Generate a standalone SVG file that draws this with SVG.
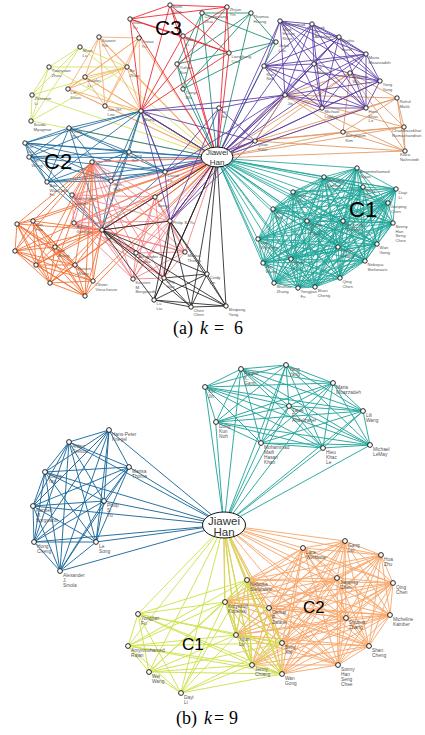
<svg xmlns="http://www.w3.org/2000/svg" width="425" height="735" viewBox="0 0 425 735">
<style>
.e{fill:none;stroke-width:0.85;stroke-linejoin:round;stroke-linecap:round}
.eb{fill:none;stroke-width:0.95;stroke-linejoin:round;stroke-linecap:round}
.c-teal{stroke:#20a59a}.c-pur{stroke:#5a3aa6}.c-tan{stroke:#df9660}.c-red{stroke:#e8202a}.c-grn{stroke:#168a6e}
.c-lor{stroke:#f7a86c}.c-yel{stroke:#d2e25a}.c-blu{stroke:#1d6a9c}.c-dor{stroke:#f36c2e}.c-pnk{stroke:#f47f85}.c-blk{stroke:#222}
.c-teal2{stroke:#26a69c}.c-blu2{stroke:#1d6a9c}.c-yel2{stroke:#cfe24c}.c-or2{stroke:#f8a86c}
.nd circle{fill:#fff;stroke:#111;stroke-width:0.9}
.la{font-family:"Liberation Sans",Arial,sans-serif;font-size:4.3px;fill:#555}
.lb{font-family:"Liberation Sans",Arial,sans-serif;font-size:4.8px;fill:#555}
.cl{font-family:"Liberation Sans",Arial,sans-serif;fill:#000}
.hub ellipse{fill:#fff;stroke:#111;stroke-width:1}
.hub text{font-family:"Liberation Sans",Arial,sans-serif;fill:#333;text-anchor:middle}
.cap{font-family:"Liberation Serif","Times New Roman",serif;font-size:18px;fill:#000}
</style>
<rect width="425" height="735" fill="#fff"/>
<g id="connectors">
<g class="e c-yel">
<polyline points="80,47 127,67 49,67 217,158 32,95 31,121"/>
<polyline points="127,67 217,158 80,47 31,121 49,67 32,95"/>
<polyline points="217,158 31,121 127,67 32,95 80,47 49,67"/>
</g>
<g class="e c-lor">
<polyline points="99,37 139,38 217,158 127,67 85,77 141,111 68,89 105,106"/>
<polyline points="139,38 127,67 99,37 141,111 217,158 105,106 85,77 68,89"/>
<polyline points="127,67 141,111 139,38 105,106 99,37 68,89 217,158 85,77"/>
<polyline points="141,111 105,106 127,67 68,89 139,38 85,77 99,37 217,158"/>
</g>
<g class="e c-grn">
<polyline points="202,13 251,13 217,158 276,42 177,64 183,89"/>
<polyline points="251,13 276,42 202,13 183,89 217,158 177,64"/>
<polyline points="276,42 183,89 251,13 177,64 202,13 217,158"/>
</g>
<g class="e c-red">
<polygon points="217,158 170,5 227,7 183,36 229,53 130,19 141,111"/>
<polygon points="217,158 227,7 229,53 170,5 141,111 183,36 130,19"/>
<polygon points="217,158 229,53 141,111 227,7 130,19 170,5 183,36"/>
</g>
<g class="e c-blu">
<polyline points="69,128 141,111 25,143 129,152 29,157 165,172 47,182 217,158 111,181 102,230"/>
<polyline points="141,111 129,152 69,128 165,172 25,143 217,158 29,157 102,230 47,182 111,181"/>
<polyline points="129,152 165,172 141,111 217,158 69,128 102,230 25,143 111,181 29,157 47,182"/>
<polyline points="165,172 217,158 129,152 102,230 141,111 111,181 69,128 47,182 25,143 29,157"/>
<polyline points="217,158 102,230 165,172 111,181 129,152 47,182 141,111 29,157 69,128 25,143"/>
</g>
<g class="e c-dor">
<polyline points="92,162 102,230 217,158 93,281 75,265 85,296 55,247 50,283 33,221 36,265 17,224 15,251"/>
<polyline points="102,230 93,281 92,162 85,296 217,158 50,283 75,265 36,265 55,247 15,251 33,221 17,224"/>
<polyline points="93,281 85,296 102,230 50,283 92,162 36,265 217,158 15,251 75,265 17,224 55,247 33,221"/>
<polyline points="85,296 50,283 93,281 36,265 102,230 15,251 92,162 17,224 217,158 33,221 75,265 55,247"/>
<polyline points="50,283 36,265 85,296 15,251 93,281 17,224 102,230 33,221 92,162 55,247 217,158 75,265"/>
<polyline points="36,265 15,251 50,283 17,224 85,296 33,221 93,281 55,247 102,230 75,265 92,162 217,158"/>
</g>
<g class="e c-pnk">
<polygon points="217,158 92,162 155,197 72,195 170,221 74,223 185,252 102,230 164,278 136,253 133,279"/>
<polygon points="217,158 155,197 170,221 92,162 185,252 72,195 164,278 74,223 133,279 102,230 136,253"/>
<polygon points="217,158 170,221 185,252 155,197 164,278 92,162 133,279 72,195 136,253 74,223 102,230"/>
<polygon points="217,158 185,252 164,278 170,221 133,279 155,197 136,253 92,162 102,230 72,195 74,223"/>
<polygon points="217,158 164,278 133,279 185,252 136,253 170,221 102,230 155,197 74,223 92,162 72,195"/>
</g>
<g class="e c-blk">
<polyline points="170,221 217,158 207,274 226,306 102,230 191,307 164,278 154,300"/>
<polyline points="217,158 226,306 170,221 191,307 207,274 154,300 102,230 164,278"/>
<polyline points="226,306 191,307 217,158 154,300 170,221 164,278 207,274 102,230"/>
<polyline points="191,307 154,300 226,306 164,278 217,158 102,230 170,221 207,274"/>
</g>
<g class="e c-pur">
<polygon points="217,158 219,108 255,141 285,95 141,111 170,221 165,172"/>
<polygon points="217,158 255,141 141,111 219,108 165,172 285,95 170,221"/>
<polygon points="217,158 141,111 165,172 255,141 170,221 219,108 285,95"/>
</g>
<g class="e c-tan">
<polyline points="350,73 397,98 217,158 404,127 255,141 405,151 285,95 343,132"/>
<polyline points="397,98 404,127 350,73 405,151 217,158 343,132 255,141 285,95"/>
<polyline points="404,127 405,151 397,98 343,132 350,73 285,95 217,158 255,141"/>
<polyline points="405,151 343,132 404,127 285,95 397,98 255,141 350,73 217,158"/>
</g>
<g class="e c-pur">
<polygon points="217,158 280,21 312,24 314,64 339,37 264,66 366,54 285,95 380,81 322,108 366,108"/>
<polygon points="217,158 312,24 339,37 280,21 366,54 314,64 380,81 264,66 366,108 285,95 322,108"/>
<polygon points="217,158 339,37 366,54 312,24 380,81 280,21 366,108 314,64 322,108 264,66 285,95"/>
<polygon points="217,158 366,54 380,81 339,37 366,108 312,24 322,108 280,21 285,95 314,64 264,66"/>
<polygon points="217,158 380,81 366,108 366,54 322,108 339,37 285,95 312,24 264,66 280,21 314,64"/>
</g>
<g class="e c-teal">
<polygon points="217,158 357,168 324,177 315,287 363,187 298,288 396,189 274,283 293,192 340,278 388,203 365,261 273,209 291,259 307,221 263,263 343,221 338,247 393,223 377,244 258,239"/>
<polygon points="217,158 324,177 363,187 357,168 396,189 315,287 293,192 298,288 388,203 274,283 273,209 340,278 307,221 365,261 343,221 291,259 393,223 263,263 258,239 338,247 377,244"/>
<polygon points="217,158 363,187 396,189 324,177 293,192 357,168 388,203 315,287 273,209 298,288 307,221 274,283 343,221 340,278 393,223 365,261 258,239 291,259 377,244 263,263 338,247"/>
<polygon points="217,158 396,189 293,192 363,187 388,203 324,177 273,209 357,168 307,221 315,287 343,221 298,288 393,223 274,283 258,239 340,278 377,244 365,261 338,247 291,259 263,263"/>
<polygon points="217,158 293,192 388,203 396,189 273,209 363,187 307,221 324,177 343,221 357,168 393,223 315,287 258,239 298,288 377,244 274,283 338,247 340,278 263,263 365,261 291,259"/>
<polygon points="217,158 388,203 273,209 293,192 307,221 396,189 343,221 363,187 393,223 324,177 258,239 357,168 377,244 315,287 338,247 298,288 263,263 274,283 291,259 340,278 365,261"/>
<polygon points="217,158 273,209 307,221 388,203 343,221 293,192 393,223 396,189 258,239 363,187 377,244 324,177 338,247 357,168 263,263 315,287 291,259 298,288 365,261 274,283 340,278"/>
<polygon points="217,158 307,221 343,221 273,209 393,223 388,203 258,239 293,192 377,244 396,189 338,247 363,187 263,263 324,177 291,259 357,168 365,261 315,287 340,278 298,288 274,283"/>
<polygon points="217,158 343,221 393,223 307,221 258,239 273,209 377,244 388,203 338,247 293,192 263,263 396,189 291,259 363,187 365,261 324,177 340,278 357,168 274,283 315,287 298,288"/>
<polygon points="217,158 393,223 258,239 343,221 377,244 307,221 338,247 273,209 263,263 388,203 291,259 293,192 365,261 396,189 340,278 363,187 274,283 324,177 298,288 357,168 315,287"/>
</g>
<g class="eb c-teal2">
<polygon points="224,525 205,387 241,369 289,406 286,365 216,422 333,383 261,443 363,411 323,448 370,445"/>
<polygon points="224,525 241,369 286,365 205,387 333,383 289,406 363,411 216,422 370,445 261,443 323,448"/>
<polygon points="224,525 286,365 333,383 241,369 363,411 205,387 370,445 289,406 323,448 216,422 261,443"/>
<polygon points="224,525 333,383 363,411 286,365 370,445 241,369 323,448 205,387 261,443 289,406 216,422"/>
<polygon points="224,525 363,411 370,445 333,383 323,448 286,365 261,443 241,369 216,422 205,387 289,406"/>
</g>
<g class="eb c-blu2">
<polyline points="109,430 129,467 69,442 104,501 45,472 224,525 33,506 96,542 34,542 60,571"/>
<polyline points="129,467 104,501 109,430 224,525 69,442 96,542 45,472 60,571 33,506 34,542"/>
<polyline points="104,501 224,525 129,467 96,542 109,430 60,571 69,442 34,542 45,472 33,506"/>
<polyline points="224,525 96,542 104,501 60,571 129,467 34,542 109,430 33,506 69,442 45,472"/>
<polyline points="96,542 60,571 224,525 34,542 104,501 33,506 129,467 45,472 109,430 69,442"/>
</g>
<g class="eb c-or2">
<polygon points="224,525 303,548 345,541 337,578 381,555 346,618 393,583 269,608 390,615 282,643 369,646 247,580 338,665 225,602 282,674 236,635 252,665"/>
<polygon points="224,525 345,541 381,555 303,548 393,583 337,578 390,615 346,618 369,646 269,608 338,665 282,643 282,674 247,580 252,665 225,602 236,635"/>
<polygon points="224,525 381,555 393,583 345,541 390,615 303,548 369,646 337,578 338,665 346,618 282,674 269,608 252,665 282,643 236,635 247,580 225,602"/>
<polygon points="224,525 393,583 390,615 381,555 369,646 345,541 338,665 303,548 282,674 337,578 252,665 346,618 236,635 269,608 225,602 282,643 247,580"/>
<polygon points="224,525 390,615 369,646 393,583 338,665 381,555 282,674 345,541 252,665 303,548 236,635 337,578 225,602 346,618 247,580 269,608 282,643"/>
<polygon points="224,525 369,646 338,665 390,615 282,674 393,583 252,665 381,555 236,635 345,541 225,602 303,548 247,580 337,578 282,643 346,618 269,608"/>
<polygon points="224,525 338,665 282,674 369,646 252,665 390,615 236,635 393,583 225,602 381,555 247,580 345,541 282,643 303,548 269,608 337,578 346,618"/>
<polygon points="224,525 282,674 252,665 338,665 236,635 369,646 225,602 390,615 247,580 393,583 282,643 381,555 269,608 345,541 346,618 303,548 337,578"/>
</g>
<g class="eb c-yel2">
<polygon points="224,525 247,580 225,602 236,635 138,614 282,643 128,646 282,674 149,672 252,665 181,693"/>
<polygon points="224,525 225,602 138,614 247,580 128,646 236,635 149,672 282,643 181,693 282,674 252,665"/>
<polygon points="224,525 138,614 128,646 225,602 149,672 247,580 181,693 236,635 252,665 282,643 282,674"/>
<polygon points="224,525 128,646 149,672 138,614 181,693 225,602 252,665 247,580 282,674 236,635 282,643"/>
<polygon points="224,525 149,672 181,693 128,646 252,665 138,614 282,674 225,602 282,643 247,580 236,635"/>
</g>
</g>

<g id="hub-a" class="hub"><ellipse cx="217" cy="157" rx="16" ry="10"/><text x="217" y="155" font-size="8">Jiawei</text><text x="217" y="164.5" font-size="8">Han</text></g>
<g id="hub-b" class="hub"><ellipse cx="224" cy="525" rx="21.5" ry="13"/><text x="224" y="525" font-size="11.5">Jiawei</text><text x="224" y="536" font-size="11.5">Han</text></g>

<g id="a-t0" class="nd"><circle cx="357" cy="168" r="2.2"/><text class="la" x="359.5" y="173">Amynmohamed<tspan x="359.5" dy="4.6">Rajan</tspan></text></g>
<g id="a-t1" class="nd"><circle cx="324" cy="177" r="2.2"/><text class="la" x="326.5" y="182">Micheline<tspan x="326.5" dy="4.6">Kamber</tspan></text></g>
<g id="a-t2" class="nd"><circle cx="363" cy="187" r="2.2"/><text class="la" x="365.5" y="192">Betty<tspan x="365.5" dy="4.6">Xia</tspan></text></g>
<g id="a-t3" class="nd"><circle cx="396" cy="189" r="2.2"/><text class="la" x="398.5" y="194">Dayi<tspan x="398.5" dy="4.6">Li</tspan></text></g>
<g id="a-t4" class="nd"><circle cx="293" cy="192" r="2.2"/><text class="la" x="295.5" y="197">Gang<tspan x="295.5" dy="4.6">Liu</tspan></text></g>
<g id="a-t5" class="nd"><circle cx="388" cy="203" r="2.2"/><text class="la" x="390.5" y="208">Jianping<tspan x="390.5" dy="4.6">Chen</tspan></text></g>
<g id="a-t6" class="nd"><circle cx="273" cy="209" r="2.2"/><text class="la" x="275.5" y="214">Hua<tspan x="275.5" dy="4.6">Zhu</tspan></text></g>
<g id="a-t7" class="nd"><circle cx="307" cy="221" r="2.2"/><text class="la" x="309.5" y="226">Osmar<tspan x="309.5" dy="4.6">R.</tspan><tspan x="309.5" dy="4.6">Zaiane</tspan></text></g>
<g id="a-t8" class="nd"><circle cx="343" cy="221" r="2.2"/><text class="la" x="345.5" y="226">Krzysztof<tspan x="345.5" dy="4.6">Koperski</tspan></text></g>
<g id="a-t9" class="nd"><circle cx="393" cy="223" r="2.2"/><text class="la" x="395.5" y="228">Sonny<tspan x="395.5" dy="4.6">Han</tspan><tspan x="395.5" dy="4.6">Seng</tspan><tspan x="395.5" dy="4.6">Chee</tspan></text></g>
<g id="a-t10" class="nd"><circle cx="258" cy="239" r="2.2"/><text class="la" x="260.5" y="244">Lara<tspan x="260.5" dy="4.6">Winstone</tspan></text></g>
<g id="a-t11" class="nd"><circle cx="377" cy="244" r="2.2"/><text class="la" x="379.5" y="249">Wan<tspan x="379.5" dy="4.6">Gong</tspan></text></g>
<g id="a-t12" class="nd"><circle cx="338" cy="247" r="2.2"/><text class="la" x="340.5" y="252">Jenny<tspan x="340.5" dy="4.6">Chiang</tspan></text></g>
<g id="a-t13" class="nd"><circle cx="263" cy="263" r="2.2"/><text class="la" x="265.5" y="268">Wei<tspan x="265.5" dy="4.6">Wang</tspan></text></g>
<g id="a-t14" class="nd"><circle cx="291" cy="259" r="2.2"/><text class="la" x="293.5" y="264">Yijun<tspan x="293.5" dy="4.6">Lu</tspan></text></g>
<g id="a-t15" class="nd"><circle cx="365" cy="261" r="2.2"/><text class="la" x="367.5" y="266">Nebojsa<tspan x="367.5" dy="4.6">Stefanovic</tspan></text></g>
<g id="a-t16" class="nd"><circle cx="340" cy="278" r="2.2"/><text class="la" x="342.5" y="283">Qing<tspan x="342.5" dy="4.6">Chen</tspan></text></g>
<g id="a-t17" class="nd"><circle cx="274" cy="283" r="2.2"/><text class="la" x="276.5" y="288">Shuhua<tspan x="276.5" dy="4.6">Zhang</tspan></text></g>
<g id="a-t18" class="nd"><circle cx="298" cy="288" r="2.2"/><text class="la" x="300.5" y="293">Yongjian<tspan x="300.5" dy="4.6">Fu</tspan></text></g>
<g id="a-t19" class="nd"><circle cx="315" cy="287" r="2.2"/><text class="la" x="317.5" y="292">Shan<tspan x="317.5" dy="4.6">Cheng</tspan></text></g>

<g id="a-p0" class="nd"><circle cx="280" cy="21" r="2.2"/><text class="la" x="282.5" y="26">Mohammad<tspan x="282.5" dy="4.6">Maifi</tspan><tspan x="282.5" dy="4.6">Hasan</tspan><tspan x="282.5" dy="4.6">Khan</tspan></text></g>
<g id="a-p1" class="nd"><circle cx="312" cy="24" r="2.2"/><text class="la" x="314.5" y="29">Tarek<tspan x="314.5" dy="4.6">F.</tspan><tspan x="314.5" dy="4.6">Abdelzaher</tspan></text></g>
<g id="a-p2" class="nd"><circle cx="339" cy="37" r="2.2"/><text class="la" x="341.5" y="42">Raghu<tspan x="341.5" dy="4.6">K.</tspan><tspan x="341.5" dy="4.6">Ganti</tspan></text></g>
<g id="a-p3" class="nd"><circle cx="366" cy="54" r="2.2"/><text class="la" x="368.5" y="59">Maria<tspan x="368.5" dy="4.6">Moazzadeh</tspan></text></g>
<g id="a-p4" class="nd"><circle cx="380" cy="81" r="2.2"/><text class="la" x="382.5" y="86">Yong<tspan x="382.5" dy="4.6">Yang</tspan></text></g>
<g id="a-p5" class="nd"><circle cx="366" cy="108" r="2.2"/><text class="la" x="368.5" y="113">Hieu<tspan x="368.5" dy="4.6">Khac</tspan><tspan x="368.5" dy="4.6">Le</tspan></text></g>
<g id="a-p6" class="nd"><circle cx="322" cy="108" r="2.2"/><text class="la" x="324.5" y="113">Michael<tspan x="324.5" dy="4.6">LeMay</tspan></text></g>
<g id="a-p7" class="nd"><circle cx="285" cy="95" r="2.2"/><text class="la" x="287.5" y="100">Xin<tspan x="287.5" dy="4.6">Jin</tspan></text></g>
<g id="a-p8" class="nd"><circle cx="264" cy="66" r="2.2"/><text class="la" x="266.5" y="71">Dong<tspan x="266.5" dy="4.6">Kun</tspan><tspan x="266.5" dy="4.6">Noh</tspan></text></g>
<g id="a-p9" class="nd"><circle cx="314" cy="64" r="2.2"/><text class="la" x="316.5" y="69">Lili<tspan x="316.5" dy="4.6">Wang</tspan></text></g>
<g id="a-q0" class="nd"><circle cx="219" cy="108" r="2.2"/><text class="la" x="221.5" y="113">Lu<tspan x="221.5" dy="4.6">Su</tspan></text></g>
<g id="a-q1" class="nd"><circle cx="255" cy="141" r="2.2"/><text class="la" x="257.5" y="146">Quan<tspan x="257.5" dy="4.6">Yuan</tspan></text></g>

<g id="a-o0" class="nd"><circle cx="350" cy="73" r="2.2"/><text class="la" x="352.5" y="78">Wanmin<tspan x="352.5" dy="4.6">Wu</tspan></text></g>
<g id="a-o1" class="nd"><circle cx="397" cy="98" r="2.2"/><text class="la" x="399.5" y="103">Rahul<tspan x="399.5" dy="4.6">Malik</tspan></text></g>
<g id="a-o2" class="nd"><circle cx="404" cy="127" r="2.2"/><text class="la" x="392" y="132">Chandrasekhar<tspan x="392" dy="4.6">Ramachandran</tspan></text></g>
<g id="a-o3" class="nd"><circle cx="405" cy="151" r="2.2"/><text class="la" x="400" y="156">Klara<tspan x="400" dy="4.6">Nahrstedt</tspan></text></g>
<g id="a-o4" class="nd"><circle cx="343" cy="132" r="2.2"/><text class="la" x="345.5" y="137">Sangkyum<tspan x="345.5" dy="4.6">Kim</tspan></text></g>

<g id="a-r0" class="nd"><circle cx="170" cy="5" r="2.2"/><text class="la" x="172.5" y="8">Bolin<tspan x="172.5" dy="4.6">Ding</tspan></text></g>
<g id="a-r1" class="nd"><circle cx="227" cy="7" r="2.2"/><text class="la" x="229.5" y="11">Zhijun<tspan x="229.5" dy="4.6">Yin</tspan></text></g>
<g id="a-r2" class="nd"><circle cx="229" cy="53" r="2.2"/><text class="la" x="231.5" y="58">Liangliang<tspan x="231.5" dy="4.6">Cao</tspan></text></g>
<g id="a-r3" class="nd"><circle cx="141" cy="111" r="2.2"/><text class="la" x="143.5" y="116">Chi<tspan x="143.5" dy="4.6">Wang</tspan></text></g>
<g id="a-r4" class="nd"><circle cx="130" cy="19" r="2.2"/><text class="la" x="132.5" y="24">Xiao<tspan x="132.5" dy="4.6">Yu</tspan></text></g>
<g id="a-r5" class="nd"><circle cx="183" cy="36" r="2.2"/><text class="la" x="185.5" y="41">Rui<tspan x="185.5" dy="4.6">Li</tspan></text></g>
<g id="a-g0" class="nd"><circle cx="202" cy="13" r="2.2"/><text class="la" x="204.5" y="18">Chengxiang<tspan x="204.5" dy="4.6">Zhai</tspan></text></g>
<g id="a-g1" class="nd"><circle cx="251" cy="13" r="2.2"/><text class="la" x="253.5" y="18">Thomas<tspan x="253.5" dy="4.6">Huang</tspan></text></g>
<g id="a-g2" class="nd"><circle cx="276" cy="42" r="2.2"/><text class="la" x="278.5" y="47">Jiebo<tspan x="278.5" dy="4.6">Luo</tspan></text></g>
<g id="a-g3" class="nd"><circle cx="177" cy="64" r="2.2"/><text class="la" x="179.5" y="69">Yizhou<tspan x="179.5" dy="4.6">Sun</tspan></text></g>
<g id="a-g4" class="nd"><circle cx="183" cy="89" r="2.2"/><text class="la" x="185.5" y="94">Tianyi<tspan x="185.5" dy="4.6">Wu</tspan></text></g>

<g id="a-l0" class="nd"><circle cx="99" cy="37" r="2.2"/><text class="la" x="101.5" y="42">Xiaoxin<tspan x="101.5" dy="4.6">Yin</tspan></text></g>
<g id="a-l1" class="nd"><circle cx="139" cy="38" r="2.2"/><text class="la" x="141.5" y="43">Yintao<tspan x="141.5" dy="4.6">Yu</tspan></text></g>
<g id="a-l2" class="nd"><circle cx="127" cy="67" r="2.2"/><text class="la" x="129.5" y="72">Bo<tspan x="129.5" dy="4.6">Zhao</tspan></text></g>
<g id="a-l3" class="nd"><circle cx="85" cy="77" r="2.2"/><text class="la" x="87.5" y="82">Xiaolei<tspan x="87.5" dy="4.6">Li</tspan></text></g>
<g id="a-l4" class="nd"><circle cx="68" cy="89" r="2.2"/><text class="la" x="70.5" y="94">Lei<tspan x="70.5" dy="4.6">Duan</tspan></text></g>
<g id="a-l5" class="nd"><circle cx="105" cy="106" r="2.2"/><text class="la" x="107.5" y="111">Jae-Gil<tspan x="107.5" dy="4.6">Lee</tspan></text></g>
<g id="a-y0" class="nd"><circle cx="80" cy="47" r="2.2"/><text class="la" x="82.5" y="52">Shan<tspan x="82.5" dy="4.6">Lu</tspan></text></g>
<g id="a-y1" class="nd"><circle cx="49" cy="67" r="2.2"/><text class="la" x="51.5" y="72">Yuanyuan<tspan x="51.5" dy="4.6">Zhou</tspan></text></g>
<g id="a-y2" class="nd"><circle cx="32" cy="95" r="2.2"/><text class="la" x="34.5" y="100">Zhenmin<tspan x="34.5" dy="4.6">Li</tspan></text></g>
<g id="a-y3" class="nd"><circle cx="31" cy="121" r="2.2"/><text class="la" x="33.5" y="126">Suvda<tspan x="33.5" dy="4.6">Myagmar</tspan></text></g>

<g id="a-b0" class="nd"><circle cx="69" cy="128" r="2.2"/><text class="la" x="71.5" y="133">Feida<tspan x="71.5" dy="4.6">Zhu</tspan></text></g>
<g id="a-b1" class="nd"><circle cx="25" cy="143" r="2.2"/><text class="la" x="27.5" y="148">Lei<tspan x="27.5" dy="4.6">Liu</tspan></text></g>
<g id="a-b2" class="nd"><circle cx="29" cy="157" r="2.2"/><text class="la" x="31.5" y="162">Jun<tspan x="31.5" dy="4.6">Wang</tspan></text></g>
<g id="a-b3" class="nd"><circle cx="47" cy="182" r="2.2"/><text class="la" x="49.5" y="187">Ada<tspan x="49.5" dy="4.6">Wai-Chee</tspan><tspan x="49.5" dy="4.6">Fu</tspan></text></g>
<g id="a-b4" class="nd"><circle cx="111" cy="181" r="2.2"/><text class="la" x="113.5" y="186">Jian<tspan x="113.5" dy="4.6">Pei</tspan></text></g>
<g id="a-b5" class="nd"><circle cx="129" cy="152" r="2.2"/><text class="la" x="131.5" y="157">Dong<tspan x="131.5" dy="4.6">Xin</tspan></text></g>
<g id="a-b6" class="nd"><circle cx="165" cy="172" r="2.2"/><text class="la" x="167.5" y="177">David<tspan x="167.5" dy="4.6">Lo</tspan></text></g>

<g id="a-d0" class="nd"><circle cx="92" cy="162" r="2.2"/></g>
<g id="a-d1" class="nd"><circle cx="102" cy="230" r="2.2"/><text class="la" x="104.5" y="235">Xifeng<tspan x="104.5" dy="4.6">Yan</tspan></text></g>
<g id="a-d2" class="nd"><circle cx="93" cy="281" r="2.2"/><text class="la" x="95.5" y="286">Olivier<tspan x="95.5" dy="4.6">Verscheure</tspan></text></g>
<g id="a-d3" class="nd"><circle cx="85" cy="296" r="2.2"/></g>
<g id="a-d4" class="nd"><circle cx="50" cy="283" r="2.2"/></g>
<g id="a-d5" class="nd"><circle cx="36" cy="265" r="2.2"/></g>
<g id="a-d6" class="nd"><circle cx="15" cy="251" r="2.2"/></g>
<g id="a-d7" class="nd"><circle cx="17" cy="224" r="2.2"/></g>
<g id="a-d8" class="nd"><circle cx="33" cy="221" r="2.2"/><text class="la" x="35.5" y="226">Wei<tspan x="35.5" dy="4.6">Fan</tspan></text></g>
<g id="a-d9" class="nd"><circle cx="55" cy="247" r="2.2"/><text class="la" x="57.5" y="252">Kun<tspan x="57.5" dy="4.6">Zhang</tspan></text></g>
<g id="a-d10" class="nd"><circle cx="75" cy="265" r="2.2"/><text class="la" x="77.5" y="270">Haixun<tspan x="77.5" dy="4.6">Wang</tspan></text></g>

<g id="a-k0" class="nd"><circle cx="72" cy="195" r="2.2"/><text class="la" x="74.5" y="200">Hans-Peter<tspan x="74.5" dy="4.6">Kriegel</tspan></text></g>
<g id="a-k1" class="nd"><circle cx="155" cy="197" r="2.2"/><text class="la" x="157.5" y="202">Le<tspan x="157.5" dy="4.6">Song</tspan></text></g>
<g id="a-k2" class="nd"><circle cx="170" cy="221" r="2.2"/><text class="la" x="172.5" y="224">Philip S. Yu</text></g>
<g id="a-k3" class="nd"><circle cx="185" cy="252" r="2.2"/><text class="la" x="187.5" y="257">Marisa<tspan x="187.5" dy="4.6">Thoma</tspan></text></g>
<g id="a-k4" class="nd"><circle cx="164" cy="278" r="2.2"/><text class="la" x="166.5" y="283">Jing<tspan x="166.5" dy="4.6">Gao</tspan></text></g>
<g id="a-k5" class="nd"><circle cx="133" cy="279" r="2.2"/><text class="la" x="135.5" y="284">Karsten<tspan x="135.5" dy="4.6">M.</tspan><tspan x="135.5" dy="4.6">Borgwardt</tspan></text></g>
<g id="a-k6" class="nd"><circle cx="136" cy="253" r="2.2"/><text class="la" x="138.5" y="258">Alexander J.<tspan x="138.5" dy="4.6">Smola</tspan></text></g>
<g id="a-k7" class="nd"><circle cx="74" cy="223" r="2.2"/><text class="la" x="76.5" y="228">Arthur<tspan x="76.5" dy="4.6">Gretton</tspan></text></g>
<g id="a-k8" class="nd"><circle cx="207" cy="274" r="2.2"/><text class="la" x="209.5" y="279">Cindy<tspan x="209.5" dy="4.6">Lin</tspan></text></g>
<g id="a-k9" class="nd"><circle cx="154" cy="300" r="2.2"/><text class="la" x="156.5" y="305">Lu<tspan x="156.5" dy="4.6">Liu</tspan></text></g>
<g id="a-k10" class="nd"><circle cx="191" cy="307" r="2.2"/><text class="la" x="193.5" y="311.5">Chen<tspan x="193.5" dy="4.4">Chen</tspan></text></g>
<g id="a-k11" class="nd"><circle cx="226" cy="306" r="2.2"/><text class="la" x="228.5" y="311">Shiqiang<tspan x="228.5" dy="4.6">Yang</tspan></text></g>

<text class="cl" x="155" y="35" font-size="21">C3</text>
<text class="cl" x="44" y="169" font-size="22">C2</text>
<text class="cl" x="349" y="217" font-size="22">C1</text>

<g id="b-t0" class="nd"><circle cx="205" cy="387" r="2.4"/><text class="lb" x="208" y="392.5">Xin<tspan x="208" dy="5.2">Jin</tspan></text></g>
<g id="b-t1" class="nd"><circle cx="241" cy="369" r="2.4"/><text class="lb" x="244" y="374.5">Raghu<tspan x="244" dy="5.2">K.</tspan><tspan x="244" dy="5.2">Ganti</tspan></text></g>
<g id="b-t2" class="nd"><circle cx="286" cy="365" r="2.4"/><text class="lb" x="289" y="370.5">Yong<tspan x="289" dy="5.2">Yang</tspan></text></g>
<g id="b-t3" class="nd"><circle cx="333" cy="383" r="2.4"/><text class="lb" x="336" y="388.5">Maria<tspan x="336" dy="5.2">Moazzadeh</tspan></text></g>
<g id="b-t4" class="nd"><circle cx="363" cy="411" r="2.4"/><text class="lb" x="366" y="416.5">Lili<tspan x="366" dy="5.2">Wang</tspan></text></g>
<g id="b-t5" class="nd"><circle cx="370" cy="445" r="2.4"/><text class="lb" x="373" y="450.5">Michael<tspan x="373" dy="5.2">LeMay</tspan></text></g>
<g id="b-t6" class="nd"><circle cx="323" cy="448" r="2.4"/><text class="lb" x="326" y="453.5">Hieu<tspan x="326" dy="5.2">Khac</tspan><tspan x="326" dy="5.2">Le</tspan></text></g>
<g id="b-t7" class="nd"><circle cx="261" cy="443" r="2.4"/><text class="lb" x="264" y="448.5">Mohammad<tspan x="264" dy="5.2">Maifi</tspan><tspan x="264" dy="5.2">Hasan</tspan><tspan x="264" dy="5.2">Khan</tspan></text></g>
<g id="b-t8" class="nd"><circle cx="216" cy="422" r="2.4"/><text class="lb" x="219" y="427.5">Dong<tspan x="219" dy="5.2">Kun</tspan><tspan x="219" dy="5.2">Noh</tspan></text></g>
<g id="b-t9" class="nd"><circle cx="289" cy="406" r="2.4"/><text class="lb" x="292" y="411.5">Tarek<tspan x="292" dy="5.2">F.</tspan><tspan x="292" dy="5.2">Abdelzaher</tspan></text></g>

<g id="b-b0" class="nd"><circle cx="109" cy="430" r="2.4"/><text class="lb" x="112" y="435.5">Hans-Peter<tspan x="112" dy="5.2">Kriegel</tspan></text></g>
<g id="b-b1" class="nd"><circle cx="129" cy="467" r="2.4"/><text class="lb" x="132" y="472.5">Marisa<tspan x="132" dy="5.2">Thoma</tspan></text></g>
<g id="b-b2" class="nd"><circle cx="104" cy="501" r="2.4"/><text class="lb" x="107" y="506.5">Philip<tspan x="107" dy="5.2">S.</tspan><tspan x="107" dy="5.2">Yu</tspan></text></g>
<g id="b-b4" class="nd"><circle cx="96" cy="542" r="2.4"/><text class="lb" x="99" y="547.5">Le<tspan x="99" dy="5.2">Song</tspan></text></g>
<g id="b-b5" class="nd"><circle cx="60" cy="571" r="2.4"/><text class="lb" x="63" y="576.5">Alexander<tspan x="63" dy="5.2">J.</tspan><tspan x="63" dy="5.2">Smola</tspan></text></g>
<g id="b-b6" class="nd"><circle cx="34" cy="542" r="2.4"/><text class="lb" x="37" y="547.5">Hong<tspan x="37" dy="5.2">Cheng</tspan></text></g>
<g id="b-b7" class="nd"><circle cx="33" cy="506" r="2.4"/><text class="lb" x="36" y="511.5">Karsten<tspan x="36" dy="5.2">M.</tspan><tspan x="36" dy="5.2">Borgwardt</tspan></text></g>
<g id="b-b8" class="nd"><circle cx="45" cy="472" r="2.4"/><text class="lb" x="48" y="477.5">Xifeng<tspan x="48" dy="5.2">Yan</tspan></text></g>
<g id="b-b9" class="nd"><circle cx="69" cy="442" r="2.4"/><text class="lb" x="72" y="447.5">Arthur<tspan x="72" dy="5.2">Gretton</tspan></text></g>

<g id="b-y0" class="nd"><circle cx="247" cy="580" r="2.4"/><text class="lb" x="250" y="585.5">Nebojsa<tspan x="250" dy="5.2">Stefanovic</tspan></text></g>
<g id="b-y1" class="nd"><circle cx="225" cy="602" r="2.4"/><text class="lb" x="228" y="607.5">Krzysztof<tspan x="228" dy="5.2">Koperski</tspan></text></g>
<g id="b-y2" class="nd"><circle cx="138" cy="614" r="2.4"/><text class="lb" x="141" y="619.5">Yongjian<tspan x="141" dy="5.2">Fu</tspan></text></g>
<g id="b-y3" class="nd"><circle cx="128" cy="646" r="2.4"/><text class="lb" x="131" y="651.5">Amynmohamed<tspan x="131" dy="5.2">Rajan</tspan></text></g>
<g id="b-y4" class="nd"><circle cx="149" cy="672" r="2.4"/><text class="lb" x="152" y="677.5">Wei<tspan x="152" dy="5.2">Wang</tspan></text></g>
<g id="b-y5" class="nd"><circle cx="181" cy="693" r="2.4"/><text class="lb" x="184" y="698.5">Dayi<tspan x="184" dy="5.2">Li</tspan></text></g>
<g id="b-y6" class="nd"><circle cx="252" cy="665" r="2.4"/><text class="lb" x="255" y="670.5">Jenny<tspan x="255" dy="5.2">Chiang</tspan></text></g>
<g id="b-y7" class="nd"><circle cx="282" cy="674" r="2.4"/><text class="lb" x="285" y="679.5">Wan<tspan x="285" dy="5.2">Gong</tspan></text></g>
<g id="b-y8" class="nd"><circle cx="282" cy="643" r="2.4"/><text class="lb" x="285" y="648.5">Betty<tspan x="285" dy="5.2">Xia</tspan></text></g>
<g id="b-y9" class="nd"><circle cx="236" cy="635" r="2.4"/><text class="lb" x="239" y="640.5">Yijun<tspan x="239" dy="5.2">Lu</tspan></text></g>
<g id="b-o0" class="nd"><circle cx="303" cy="548" r="2.4"/><text class="lb" x="306" y="553.5">Lara<tspan x="306" dy="5.2">Winstone</tspan></text></g>
<g id="b-o1" class="nd"><circle cx="345" cy="541" r="2.4"/><text class="lb" x="348" y="546.5">Gang<tspan x="348" dy="5.2">Liu</tspan></text></g>
<g id="b-o2" class="nd"><circle cx="381" cy="555" r="2.4"/><text class="lb" x="384" y="560.5">Hua<tspan x="384" dy="5.2">Zhu</tspan></text></g>
<g id="b-o3" class="nd"><circle cx="393" cy="583" r="2.4"/><text class="lb" x="396" y="588.5">Qing<tspan x="396" dy="5.2">Chen</tspan></text></g>
<g id="b-o4" class="nd"><circle cx="390" cy="615" r="2.4"/><text class="lb" x="393" y="620.5">Micheline<tspan x="393" dy="5.2">Kamber</tspan></text></g>
<g id="b-o5" class="nd"><circle cx="369" cy="646" r="2.4"/><text class="lb" x="372" y="651.5">Shan<tspan x="372" dy="5.2">Cheng</tspan></text></g>
<g id="b-o6" class="nd"><circle cx="338" cy="665" r="2.4"/><text class="lb" x="341" y="670.5">Sonny<tspan x="341" dy="5.2">Han</tspan><tspan x="341" dy="5.2">Seng</tspan><tspan x="341" dy="5.2">Chee</tspan></text></g>
<g id="b-o13" class="nd"><circle cx="269" cy="608" r="2.4"/><text class="lb" x="272" y="613.5">Osmar<tspan x="272" dy="5.2">R.</tspan><tspan x="272" dy="5.2">Zaiane</tspan></text></g>
<g id="b-o14" class="nd"><circle cx="346" cy="618" r="2.4"/><text class="lb" x="349" y="623.5">Shuhua<tspan x="349" dy="5.2">Zhang</tspan></text></g>
<g id="b-o15" class="nd"><circle cx="337" cy="578" r="2.4"/><text class="lb" x="340" y="583.5">Jianping<tspan x="340" dy="5.2">Chen</tspan></text></g>

<text class="cl" x="182" y="650" font-size="17">C1</text>
<text class="cl" x="303" y="613" font-size="17">C2</text>

<text class="cap" y="334"><tspan x="173">(a)</tspan><tspan x="200" font-style="italic">k</tspan><tspan x="214">=</tspan><tspan x="234">6</tspan></text>
<text class="cap" y="724"><tspan x="176">(b)</tspan><tspan x="204" font-style="italic">k</tspan><tspan x="214">=</tspan><tspan x="229">9</tspan></text>
</svg>
